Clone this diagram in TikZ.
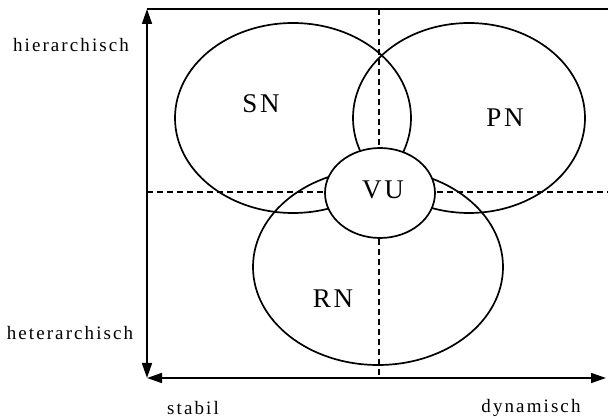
\documentclass[tikz,border=0pt]{standalone}
\usepackage{fontspec}
\setmainfont{Liberation Serif}
\newfontfamily\spaced[LetterSpace=10]{Liberation Serif}
\newfontfamily\spacedsmall[LetterSpace=11]{Liberation Serif}
\usetikzlibrary{arrows.meta}
\begin{document}
\begin{tikzpicture}[x=1pt,y=-1pt,line width=1.7pt,
  axis/.style={{Triangle[length=15pt,width=10pt]}-{Triangle[length=15pt,width=10pt]}},
  grid line/.style={line width=1.3pt,dash pattern=on 6pt off 4pt},
  biglabel/.style={font=\spaced\fontsize{27}{27}\selectfont},
  axislabel/.style={font=\spacedsmall\fontsize{19}{19}\selectfont}]
\useasboundingbox (0,0) rectangle (608,419);
% frame corners and dashed quadrant lines
\coordinate (O) at (147,378);
\coordinate (T) at (147,9);
\coordinate (R) at (606,378);
\coordinate (TR) at (608,9);
\coordinate (mT) at (379,9);
\coordinate (mB) at (379,378);
\coordinate (hL) at (147,192);
\coordinate (hR) at (608,192);
\draw[grid line] (mT) -- (mB);
\draw[grid line] (hL) -- (hR);
% ellipses
\draw (293,118) ellipse [x radius=118, y radius=95];
\draw (469,118) ellipse [x radius=116, y radius=95];
\draw (378,267) ellipse [x radius=125, y radius=98];
\draw[fill=white] (380,193) ellipse [x radius=55, y radius=45];
% axes
\draw (T) -- (TR);
\draw[axis] (O) -- (T);
\draw[axis] (O) -- (R);
% labels
\node[biglabel] (sn) at (261,104) {SN};
\node[biglabel] (pn) at (505,118) {PN};
\node[biglabel] (vu) at (383,190) {VU};
\node[biglabel] (rn) at (333,299) {RN};
\node[axislabel] (hi) at (71,45) {hierarchisch};
\node[axislabel] (he) at (70,333) {heterarchisch};
\node[axislabel] (st) at (193,408) {stabil};
\node[axislabel] (dy) at (531,408) {dynamisch};
\end{tikzpicture}
\end{document}
